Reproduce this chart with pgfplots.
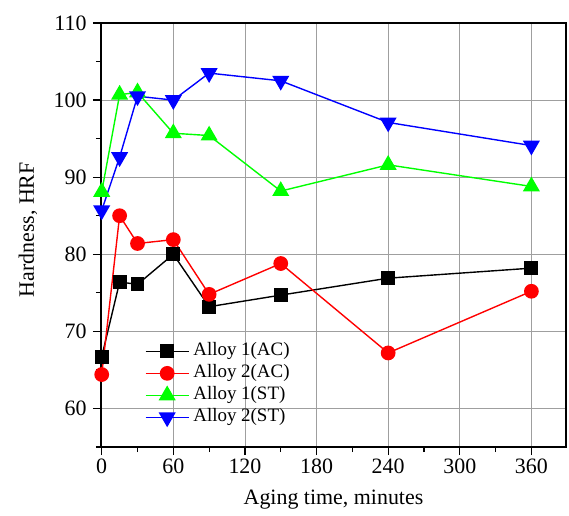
\documentclass[border=0pt]{standalone}
\usepackage{fontspec}
\setmainfont{Liberation Serif}
\usepackage{pgfplots}
\pgfplotsset{compat=1.18}

\begin{document}
\begin{tikzpicture}
\begin{axis}[
  scale only axis,
  at={(0,0)}, anchor=south west,
  width=465bp, height=424bp,
  xmin=-0.6, xmax=389,
  ymin=55, ymax=110,
  xtick={0,60,...,360},
  ytick={60,70,...,110},
  minor xtick={30,90,...,390},
  minor ytick={55,65,...,105},
  grid=major,
  major grid style={draw=gray!75, line width=0.8pt},
  axis line style={line width=1.4pt},
  tick style={black, line width=1.2pt},
  major tick length=8bp,
  minor tick length=5bp,
  tick align=outside,
  xtick pos=bottom, ytick pos=left,
  /pgf/number format/assume math mode=true,
  tick label style={font=\fontsize{22}{26}\selectfont},
  yticklabel style={xshift=-3bp},
  label style={font=\fontsize{22}{26}\selectfont},
  xlabel={Aging time, minutes},
  ylabel={Hardness, HRF},
  xlabel style={at={(axis description cs:0.5,-0.125)}, anchor=center},
  ylabel style={at={(axis description cs:-0.157,0.512)}, anchor=center},
  legend style={
    at={(axis description cs:0.0946,0.248)}, anchor=north west,
    draw=none, fill=none, inner sep=0pt, outer sep=0pt,
    font=\fontsize{19}{22}\selectfont,
    row sep=3bp,
    nodes={inner sep=1bp, text height=13bp, text depth=4bp},
  },
  legend cell align=left,
  legend image code/.code={
    \draw[line width=1.4pt, mark repeat=2, mark phase=2]
      plot coordinates {(0bp,0bp) (21.5bp,0bp) (43bp,0bp)};
  },
  every axis plot/.append style={line width=1.4pt},
]
\addplot[black, mark=square*, mark size=6.3pt, mark options={solid}] coordinates {
  (0,66.7) (15,76.4) (30,76.1) (60,80.0) (90,73.2) (150,74.7) (240,76.9) (360,78.2)
};
\addlegendentry{\hspace{3bp}Alloy 1(AC)}
\addplot[red, mark=*, mark size=6.7pt] coordinates {
  (0,64.4) (15,85.0) (30,81.4) (60,81.9) (90,74.8) (150,78.8) (240,67.2) (360,75.2)
};
\addlegendentry{\hspace{3bp}Alloy 2(AC)}
\addplot[green, mark=triangle*, mark size=8.5pt] coordinates {
  (0,88.1) (15,100.7) (30,101.0) (60,95.7) (90,95.4) (150,88.2) (240,91.6) (360,88.8)
};
\addlegendentry{\hspace{3bp}Alloy 1(ST)}
\addplot[blue, mark=triangle*, mark size=8.5pt, every mark/.append style={rotate=180}] coordinates {
  (0,85.7) (15,92.6) (30,100.5) (60,100.0) (90,103.5) (150,102.5) (240,97.1) (360,94.1)
};
\addlegendentry{\hspace{3bp}Alloy 2(ST)}
\end{axis}
\pgfresetboundingbox
\path[use as bounding box] (-101bp,-69bp) rectangle (468bp,447bp);
\end{tikzpicture}
\end{document}
